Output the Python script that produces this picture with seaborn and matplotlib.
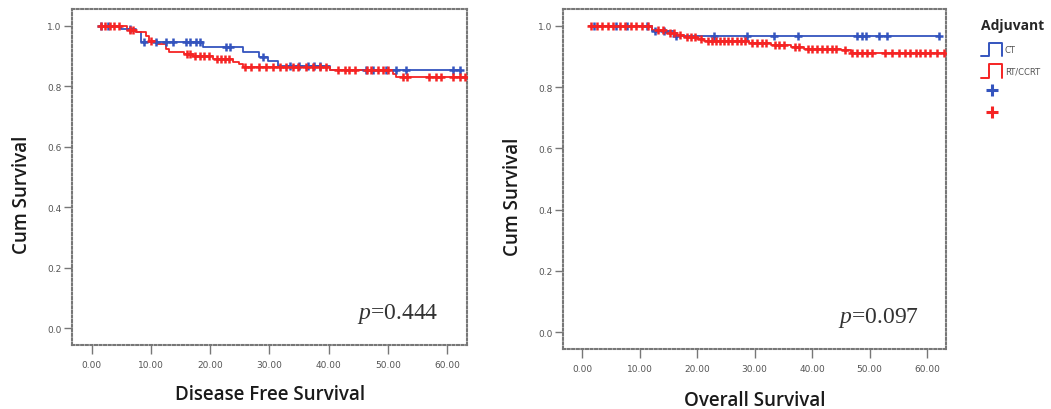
import numpy as np
import pandas as pd
import matplotlib
matplotlib.use("Agg")
import matplotlib.pyplot as plt
from matplotlib.lines import Line2D
from matplotlib.legend_handler import HandlerBase
import seaborn as sns

# ---- Data ----
# Disease free survival
dfs_ct_time = [1.3, 5.0, 7.5, 8.3, 18.8, 25.5, 28.3, 29.8, 31.5, 40.2]
dfs_ct_surv = [1.0, 0.990, 0.978, 0.946, 0.929, 0.912, 0.896, 0.884, 0.868, 0.854]
dfs_ct_censor = [1.6, 2.7, 6.5, 8.8, 10.9, 12.5, 13.7, 15.9, 16.5, 17.6, 18.2,
                 22.7, 23.3, 28.9, 33.4, 35.0, 36.5, 37.5, 38.5, 46.3, 47.5,
                 49.7, 51.4, 53.1, 61.0, 62.2]

dfs_rt_time = [1.3, 6.0, 7.5, 9.2, 9.7, 11.0, 12.6, 13.1, 15.5, 17.1, 20.5,
               23.9, 24.9, 25.6, 40.2, 50.8, 51.3]
dfs_rt_surv = [1.0, 0.987, 0.978, 0.967, 0.950, 0.940, 0.923, 0.912, 0.906,
               0.901, 0.890, 0.879, 0.873, 0.862, 0.853, 0.840, 0.829]
dfs_rt_censor = [1.5, 2.2, 3.0, 3.8, 4.6, 6.5, 7.0, 10.0, 16.0, 16.6, 17.5,
                 18.3, 19.0, 19.8, 21.2, 21.8, 22.5, 23.2, 25.8, 26.9, 28.3,
                 29.5, 30.6, 31.7, 32.8, 33.9, 34.8, 36.2, 37.3, 38.5, 39.6,
                 41.6, 42.7, 43.5, 44.4, 46.4, 47.2, 48.3, 49.2, 50.0, 52.5,
                 53.3, 57.0, 58.2, 59.0, 61.0, 62.1, 63.0]

# Overall survival
os_ct_time = [1.2, 12.2, 16.0]
os_ct_surv = [1.0, 0.983, 0.967]
os_ct_censor = [2.0, 5.8, 7.8, 11.3, 12.6, 14.3, 16.3, 22.9, 28.7, 33.4, 37.6,
                47.8, 48.6, 49.4, 51.6, 53.1, 62.0]

os_rt_time = [1.2, 12.2, 14.6, 16.5, 17.7, 20.0, 21.2, 29.0, 32.8, 36.3, 38.6,
              45.0, 46.7]
os_rt_surv = [1.0, 0.986, 0.978, 0.969, 0.964, 0.956, 0.951, 0.945, 0.938,
              0.931, 0.926, 0.920, 0.910]
os_rt_censor = [1.5, 2.5, 3.4, 4.5, 5.3, 6.5, 7.5, 8.5, 9.3, 10.4, 11.4, 13.2,
                14.0, 15.2, 15.9, 17.0, 18.3, 19.0, 19.6, 20.6, 21.8, 22.5,
                23.2, 24.0, 24.7, 25.4, 26.1, 26.9, 27.6, 28.3, 29.6, 30.4,
                31.2, 32.0, 33.5, 34.3, 35.1, 37.0, 37.8, 39.3, 40.0, 40.8,
                41.7, 42.6, 43.4, 44.2, 45.8, 46.9, 47.8, 48.7, 49.6, 50.4,
                52.7, 53.9, 55.1, 56.2, 57.1, 58.0, 58.8, 59.7, 60.6, 61.7,
                62.9]

groups = ["CT", "RT/CCRT"]
x_ticks = [0, 10, 20, 30, 40, 50, 60]
y_ticks = [0.0, 0.2, 0.4, 0.6, 0.8, 1.0]

COLORS = {"CT": "#3454BE", "RT/CCRT": "#F52424"}

sns.set_style("white")
plt.rcParams["font.family"] = ["DejaVu Sans"]
plt.rcParams["mathtext.fontset"] = "custom"
plt.rcParams["mathtext.it"] = "Liberation Serif:italic"
plt.rcParams["mathtext.rm"] = "Liberation Serif"


def km_frame(times, surv, censor):
    """Step curve and censor marks for one group."""
    end = max(max(censor), times[-1])
    curve = pd.DataFrame({"t": list(times) + [end], "s": list(surv) + [surv[-1]]})
    idx = np.searchsorted(times, censor, side="right") - 1
    marks = pd.DataFrame({"t": censor, "s": np.array(surv)[idx]})
    return curve, marks


def draw_panel(ax, series, xlabel, ptext):
    for grp, (times, surv, censor) in zip(groups, series):
        curve, marks = km_frame(times, surv, censor)
        sns.lineplot(data=curve, x="t", y="s", ax=ax, color=COLORS[grp],
                     drawstyle="steps-post", estimator=None, sort=False, lw=1.3)
        sns.scatterplot(data=marks, x="t", y="s", ax=ax, color=COLORS[grp],
                        marker="+", s=40, linewidth=1.8, zorder=3)

    ax.set_xlim(-3.4, 63.3)
    ax.set_ylim(-0.055, 1.055)
    ax.set_xticks(x_ticks)
    ax.set_xticklabels([f"{v:.2f}" for v in x_ticks])
    ax.set_yticks(y_ticks)
    ax.set_yticklabels([f"{v:.1f}" for v in y_ticks])
    ax.tick_params(axis="x", length=6.5, width=1, color="#777", pad=4,
                   labelsize=6.5, labelcolor="#555", bottom=True)
    ax.tick_params(axis="y", length=6, width=1, color="#777", pad=1.5,
                   labelsize=6.5, labelcolor="#555", left=True)
    for sp in ax.spines.values():
        sp.set_visible(True)
        sp.set_linestyle((0, (1, 1.2)))
        sp.set_color("#777")
        sp.set_linewidth(1.5)

    ax.set_xlabel(xlabel, fontsize=13.5, family="Open Sans",
                  fontweight="semibold", color="#1a1a1a")
    ax.set_ylabel("Cum Survival", fontsize=13.5, family="Open Sans",
                  fontweight="semibold", color="#1a1a1a")
    ax.xaxis.label.set_va("center")
    ax.yaxis.label.set_va("center")
    ax.text(51.6, 0.05, ptext, fontsize=17, family="Liberation Serif",
            color="#333", ha="center", va="center")


class StepHandler(HandlerBase):
    def create_artists(self, legend, orig_handle, xdescent, ydescent,
                       width, height, fontsize, trans):
        x0, y0 = -xdescent, -ydescent
        xs = [x0, x0 + 0.4 * width, x0 + 0.4 * width, x0 + width, x0 + width]
        ys = [y0, y0, y0 + height, y0 + height, y0]
        return [Line2D(xs, ys, color=orig_handle.get_color(), lw=1.4,
                       transform=trans)]


fig = plt.figure(figsize=(10.51, 4.10), dpi=100)
ax1 = fig.add_axes([0.0682, 0.156, 0.3758, 0.8195])
ax2 = fig.add_axes([0.5354, 0.1463, 0.3647, 0.8293])

draw_panel(ax1, [(dfs_ct_time, dfs_ct_surv, dfs_ct_censor),
                 (dfs_rt_time, dfs_rt_surv, dfs_rt_censor)],
           "Disease Free Survival", "$p$=0.444")
draw_panel(ax2, [(os_ct_time, os_ct_surv, os_ct_censor),
                 (os_rt_time, os_rt_surv, os_rt_censor)],
           "Overall Survival", "$p$=0.097")

ax1.xaxis.set_label_coords(0.502, -0.145)
ax1.yaxis.set_label_coords(-0.125, 0.45)
ax2.xaxis.set_label_coords(0.5, -0.15)
ax2.yaxis.set_label_coords(-0.13, 0.45)

# Legend
step_ct = Line2D([], [], color=COLORS["CT"])
step_rt = Line2D([], [], color=COLORS["RT/CCRT"])
plus_ct = Line2D([], [], color=COLORS["CT"], marker="+", ls="", ms=9, mew=2.2)
plus_rt = Line2D([], [], color=COLORS["RT/CCRT"], marker="+", ls="", ms=9, mew=2.2)
leg = fig.legend([step_ct, step_rt, plus_ct, plus_rt], ["CT", "RT/CCRT", "", ""],
                 handler_map={step_ct: StepHandler(), step_rt: StepHandler()},
                 loc="upper left", bbox_to_anchor=(975 / 1051, 1 - 13 / 410),
                 frameon=False, fontsize=6, handlelength=2.6, handleheight=2.1,
                 handletextpad=0.3, labelspacing=0.95, borderpad=0.2,
                 title="Adjuvant", alignment="left",
                 title_fontproperties={"weight": "bold", "size": 10,
                                       "family": "Open Sans"})
leg._legend_box.sep = 8
for t in leg.get_texts():
    t.set_color("#555")

fig.savefig("out.png", dpi=100)
